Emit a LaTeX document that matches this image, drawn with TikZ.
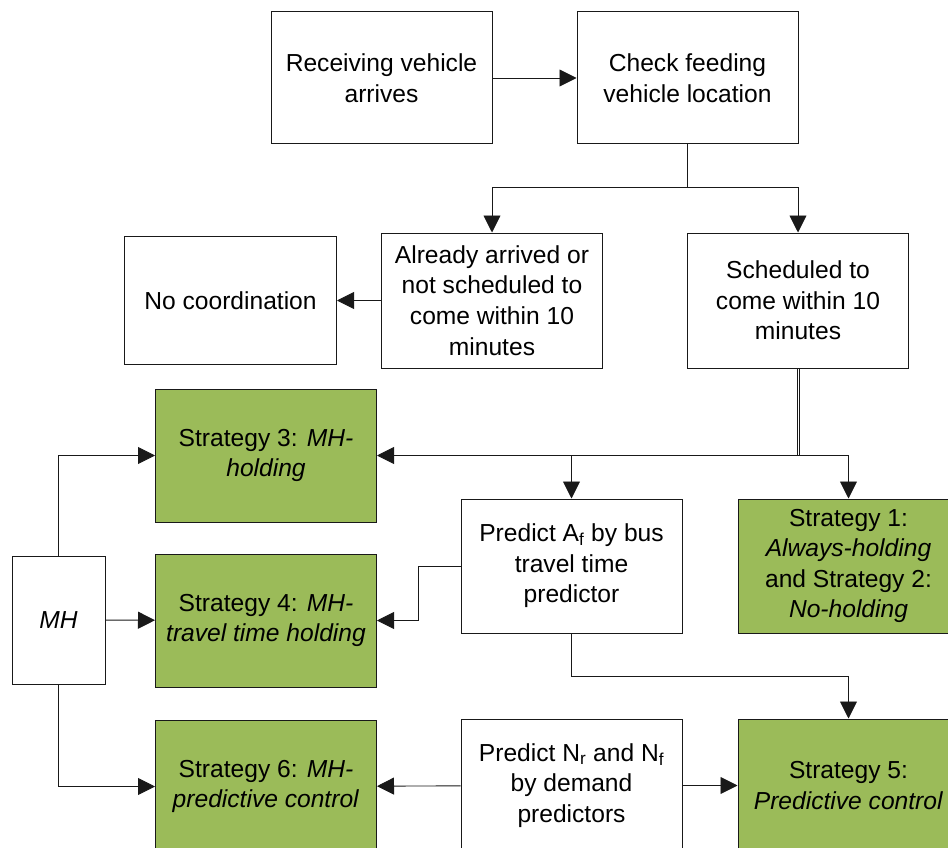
\documentclass[tikz,border=0pt]{standalone}
\usepackage{fontspec}
\setmainfont{Liberation Sans}
\usepackage{tikz}
\usetikzlibrary{arrows.meta, positioning, calc}
\definecolor{stratc}{RGB}{155,187,89}
\definecolor{linec}{RGB}{25,25,25}

\begin{document}
\begin{tikzpicture}[x=1pt, y=-1pt,
    box/.style={draw=linec, line width=1pt, align=center, inner sep=0pt,
      minimum width=221pt, minimum height=133pt,
      font=\fontsize{24.6}{30.6}\selectfont},
    strat/.style={box, fill=stratc},
    arr/.style={-{Triangle[length=17pt, width=17pt]}, line width=0.9pt, linec},
    wire/.style={line width=0.9pt, linec}]
  \useasboundingbox (0,0) rectangle (948,848);
  % top row
  \node[box, minimum height=132pt] (recv) at (381.5,78) {Receiving vehicle\\arrives};
  \node[box, minimum height=132pt, right=84pt of recv] (check) {Check feeding\\vehicle location};
  % location check outcome
  \node[box, minimum height=135pt] (early) at (492,300.5) {Already arrived or\\not scheduled to\\come within 10\\minutes};
  \node[box, minimum width=212pt, minimum height=128pt, left=44pt of early] (nocoord) {No coordination};
  \node[box, minimum height=135pt, right=84pt of early] (sched) {Scheduled to\\come within 10\\minutes};
  % strategies
  \node[strat] (s3) at (266,455.5) {Strategy 3: \textit{MH-}\\\textit{holding}};
  \node[strat, below=31pt of s3] (s4) {Strategy 4: \textit{MH-}\\\textit{travel time holding}};
  \node[strat, below=32pt of s4] (s6) {Strategy 6: \textit{MH-}\\\textit{predictive control}};
  \node[box, minimum width=93pt, minimum height=128pt] (mh) at (58.5,620) {\textit{MH}};
  \node[box, minimum height=134pt] (predA) at (571.5,566) {Predict A\textsubscript{f} by bus\\travel time\\predictor};
  \node[strat, minimum height=134pt, right=55pt of predA] (s1) {Strategy 1:\\\textit{Always-holding}\\and Strategy 2:\\\textit{No-holding}};
  \node[box, below=85pt of predA] (predN) {Predict N\textsubscript{r} and N\textsubscript{f}\\by demand\\predictors};
  \node[strat, right=55pt of predN] (s5) {Strategy 5:\\\textit{Predictive control}};

  \coordinate (split) at ($(check.south)+(0,43)$);
  \coordinate (fork) at ($(sched.south)+(0,87)$);
  \draw[arr] (recv) -- (check);
  \draw[wire] (check.south) -- (split);
  \draw[arr] (split) -| (early.north);
  \draw[arr] (split) -| (sched.north);
  \draw[arr] (early) -- (nocoord);
  \draw[arr] ([xshift=-1pt]sched.south) |- (s3.east);
  \draw[wire] ([xshift=1pt]sched.south) -- ([xshift=1pt]fork);
  \draw[arr] (fork) -| (predA.north);
  \draw[arr] (fork) -| (s1.north);
  \draw[arr] (predA.west) -- ++(-42,0) |- (s4.east);
  \draw[arr] (predA.south) -- ++(0,43) -| (s5.north);
  \draw[arr] (mh.north) |- (s3.west);
  \draw[arr] (mh) -- (s4);
  \draw[arr] (mh.south) |- (s6.west);
  \draw[arr] (predN) -- (s6);
  \draw[arr] (predN) -- (s5);
\end{tikzpicture}
\end{document}
